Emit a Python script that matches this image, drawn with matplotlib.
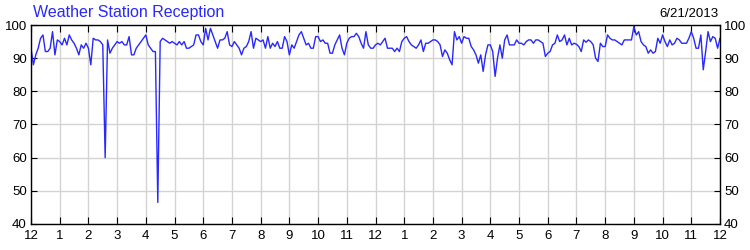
import numpy as np
import matplotlib
matplotlib.use("Agg")
import matplotlib.pyplot as plt

plt.rcParams['font.family'] = ['Liberation Sans', 'DejaVu Sans']

# signal reception (%), one reading every 5 minutes, midnight to midnight
reception_00_06 = [93, 88, 91, 93, 96, 97, 92, 92, 93, 98, 91, 95.5,
                   95, 94, 96, 94, 97, 95.5, 94.5, 93, 91, 94, 93, 94.5,
                   93, 88, 96, 95.5, 95.5, 95, 94, 60, 95.5, 91.5, 93, 94,
                   95, 94.5, 95, 94, 94, 96.5, 91, 91, 93, 94, 95, 96,
                   97, 94, 93, 92, 92, 46.5, 95, 96, 95.5, 95, 94.5, 95,
                   94.5, 94, 95, 94, 95, 93, 93, 93.5, 94, 97, 97, 95]
reception_06_12 = [94, 99, 95.5, 99, 97, 95, 93, 95.5, 95.5, 96, 98, 94,
                   93.5, 95, 94, 93, 91, 93, 93.5, 95, 98, 93, 96, 95.5,
                   95, 95.5, 93, 96.5, 93, 94.5, 93.5, 95, 93, 93, 96.5, 95,
                   91, 94, 93, 95, 97, 98, 96, 94, 94.5, 93, 93, 96.5,
                   96.5, 95, 95.5, 94.5, 94.5, 91.5, 91.5, 94, 95.5, 97, 93, 91,
                   94.5, 96, 96.5, 96.5, 97.5, 96.5, 94.5, 93, 98, 94, 93, 93]
reception_12_18 = [94, 94.5, 94, 95, 96, 93, 93, 93, 92, 93, 92, 95,
                   96, 96.5, 95, 94, 93.5, 93, 94, 95.5, 92, 94.5, 94.5, 95,
                   95.5, 95.5, 95, 94, 90.5, 92.5, 91.5, 89.5, 88, 98, 95.5, 96.5,
                   94.5, 96.5, 96, 96, 93.5, 92.5, 91, 88.5, 91, 86, 91, 94,
                   94, 92, 84.5, 90, 94, 90, 95.5, 97, 94, 94, 94, 95.5,
                   94.5, 94.5, 94, 95, 95.5, 95.5, 94.5, 95.5, 95.5, 95, 94.5, 90.5]
reception_18_24 = [91.5, 92, 94, 94.5, 97, 95, 95.5, 97, 94, 96, 94, 94.5,
                   94.2, 93.5, 92, 95.5, 94.8, 95.5, 95, 94, 90, 89, 94.5, 93.5,
                   93.5, 97, 96, 95.5, 95.5, 95, 94.5, 94, 95.5, 95.5, 95.5, 95.5,
                   99.5, 97, 98, 95, 94, 93.5, 91.5, 92.5, 91.5, 92, 96, 94.5,
                   97, 95, 93.5, 95.5, 94, 94.5, 96, 95.5, 94.5, 94.5, 94.5, 96,
                   98, 96, 93, 93, 97, 86.5, 92, 98, 95, 96.5, 96, 93, 96]

hour_labels = ['12', '1', '2', '3', '4', '5', '6', '7', '8', '9', '10', '11',
               '12', '1', '2', '3', '4', '5', '6', '7', '8', '9', '10', '11', '12']

reception = np.array(reception_00_06 + reception_06_12 + reception_12_18 + reception_18_24)
hours = np.arange(len(reception)) / 12.0

fig = plt.figure(figsize=(7.5, 2.5), dpi=100)
ax = fig.add_axes([31/750, 26/250, 689/750, 199/250])

ax.plot(hours, reception, color='#2828ff', lw=1.0)

ax.set_xlim(0, 24)
ax.set_ylim(40, 100)
ax.set_xticks(np.arange(25))
ax.set_xticklabels(hour_labels)
ax.set_yticks(np.arange(40, 101, 10))
ax.grid(True, color='#d3d3d3', lw=1.0)
ax.set_axisbelow(True)

for s in ax.spines.values():
    s.set_color('black')
    s.set_linewidth(1.0)

ax.tick_params(axis='x', direction='in', length=5, top=True, pad=4, labelsize=9.5)
ax.tick_params(axis='y', direction='in', length=4, right=True, labelright=True,
               labelsize=9.5, pad=3)

fig.text(33/750, 1 - 17/250, 'Weather Station Reception', color='#2828ff',
         fontsize=11.5, ha='left', va='baseline')
fig.text(718/750, 1 - 17/250, '6/21/2013', color='black',
         fontsize=9.5, ha='right', va='baseline')

fig.savefig('out.png', dpi=100)
